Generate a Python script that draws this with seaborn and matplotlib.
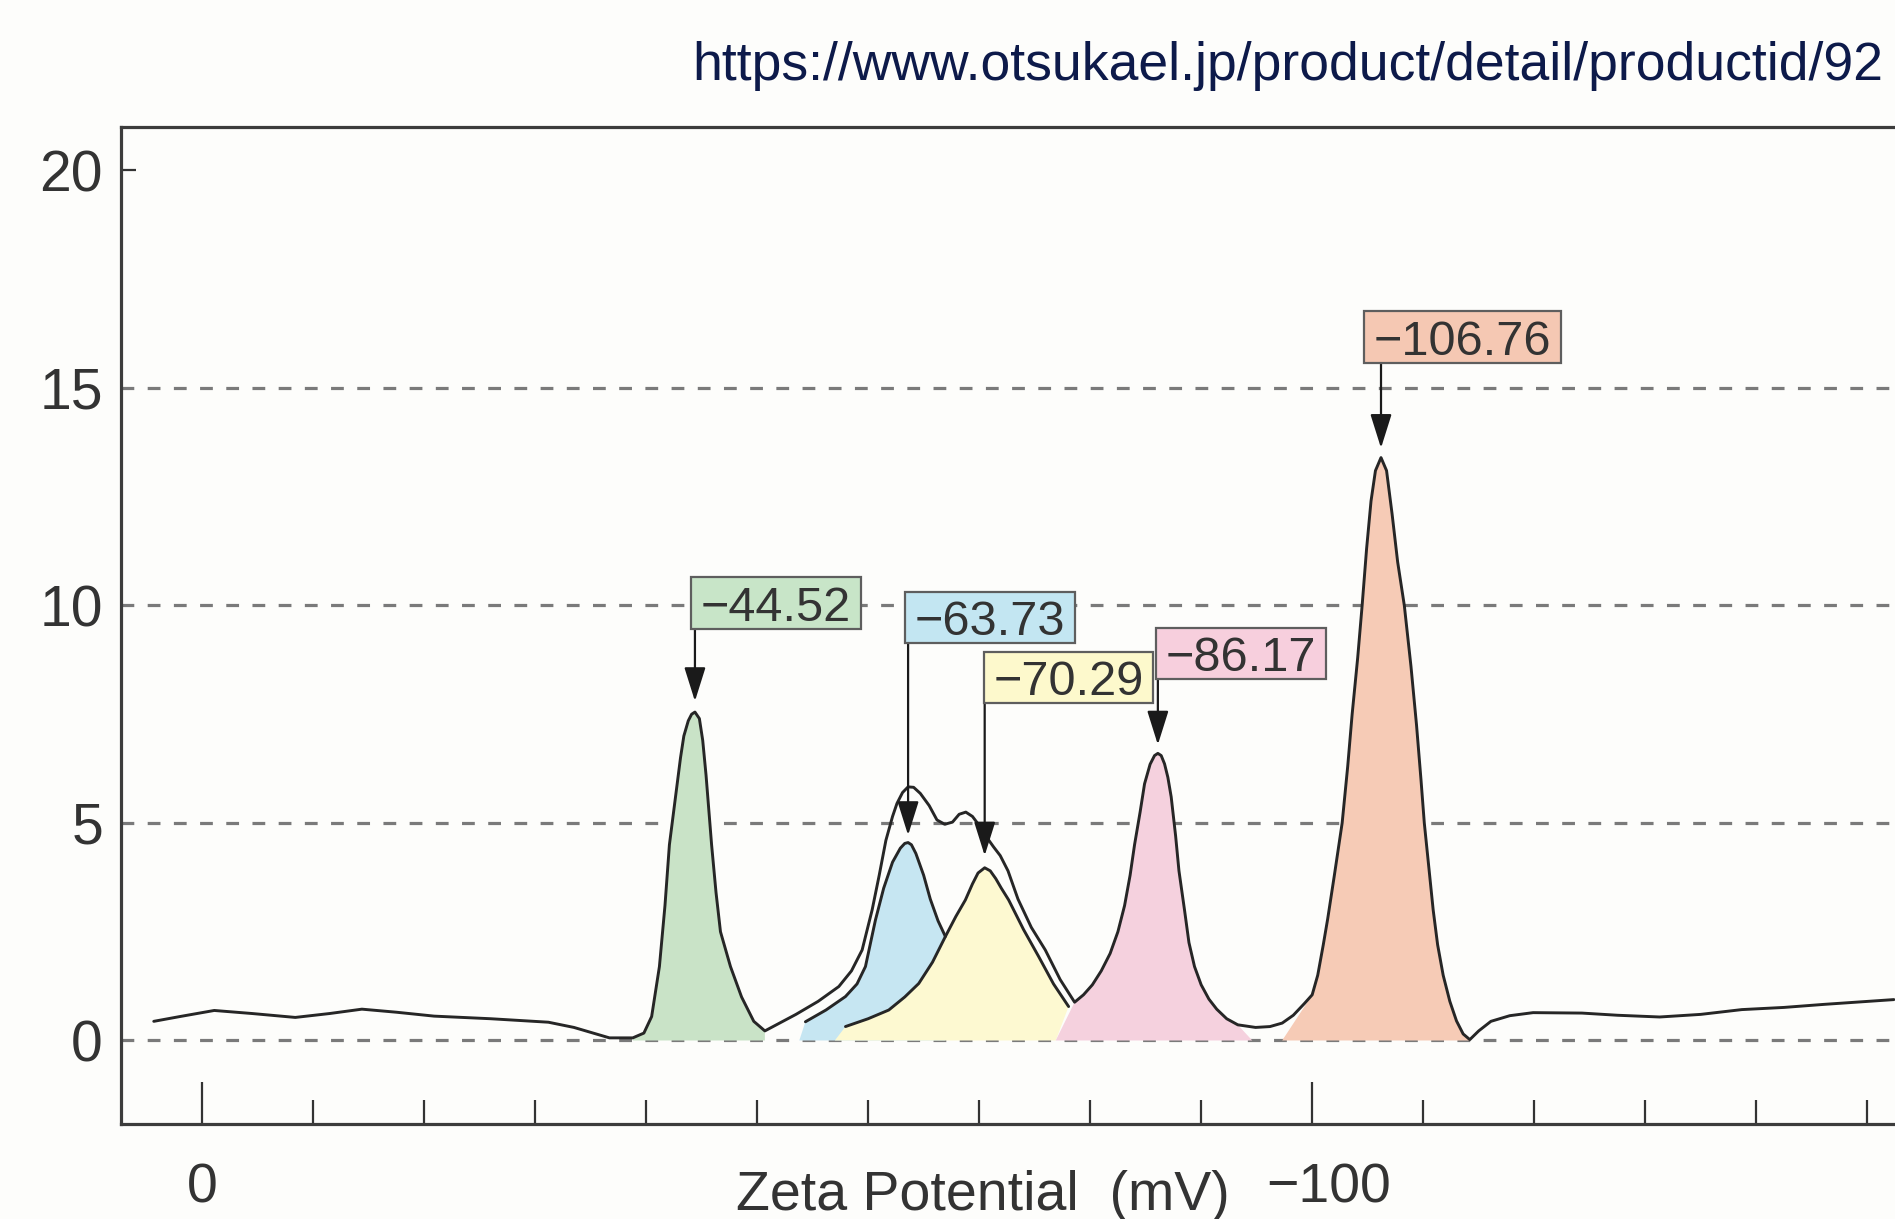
import matplotlib
matplotlib.use("Agg")
import matplotlib.pyplot as plt
import matplotlib.transforms as mtransforms
from matplotlib.path import Path
import seaborn as sns
import pandas as pd

# ---------------- data ----------------
env_mv = [4.35, 2.0, -1.1, -4.5, -8.4, -11.5, -14.4, -17.5, -20.9, -26.0, -31.2, -33.5,
          -35.5, -36.7, -38.8, -39.8, -40.5, -41.2, -41.7, -42.1, -42.5, -42.8, -43.1, -43.4,
          -43.8, -44.1, -44.4, -44.8, -45.1, -45.4, -45.9, -46.3, -46.7, -47.6, -48.6,
          -49.7, -50.7,
          -51.95, -53.5, -55.5, -57.36, -58.5, -59.46, -60.36, -61.0, -61.6, -62.2, -62.6,
          -63.1, -63.6, -64.1, -64.7, -65.5, -66.2, -66.9, -67.6, -68.2, -68.8, -69.4, -69.9,
          -70.6, -71.3, -71.9, -72.6, -73.5, -74.7, -75.96, -77.3, -78.6, -79.4, -80.2, -81.0,
          -81.8, -82.5, -83.1, -83.6, -84.0, -84.5, -84.9, -85.4, -85.8, -86.1, -86.4, -86.7,
          -87.0, -87.3, -87.7, -88.0, -88.5, -88.9, -89.4, -90.0, -90.7, -91.4, -92.3, -93.3,
          -94.9, -96.2, -97.3, -98.3, -99.3, -100.0, -100.5, -101.0, -101.4, -102.0, -102.7,
          -103.2, -103.6, -104.1, -104.5, -104.9, -105.3, -105.7, -106.2, -106.7, -107.2,
          -107.7, -108.3, -108.9, -109.4, -109.8, -110.1, -110.5, -110.9, -111.3, -111.8,
          -112.4, -113.0, -113.6, -114.2, -115.0, -116.1, -117.8, -119.9, -124.3, -127.5,
          -131.3, -135.0, -138.7, -142.5, -146.1, -152.4]
env_y = [0.44, 0.55, 0.69, 0.62, 0.53, 0.62, 0.72, 0.65, 0.56, 0.50, 0.42, 0.30,
         0.15, 0.06, 0.06, 0.17, 0.55, 1.70, 3.10, 4.50, 5.30, 5.90, 6.50, 7.00,
         7.35, 7.50, 7.55, 7.40, 6.90, 6.10, 4.50, 3.40, 2.50, 1.70, 1.00,
         0.44, 0.22,
         0.39, 0.60, 0.90, 1.24, 1.60, 2.08, 3.00, 3.80, 4.60, 5.15, 5.45,
         5.70, 5.83, 5.82, 5.68, 5.40, 5.07, 4.97, 5.02, 5.20, 5.25, 5.15, 4.98,
         4.70, 4.45, 4.25, 3.90, 3.25, 2.60, 2.08, 1.40, 0.88, 1.05, 1.28, 1.60,
         2.00, 2.50, 3.10, 3.80, 4.50, 5.25, 5.90, 6.35, 6.55, 6.60, 6.55, 6.36,
         6.05, 5.60, 4.70, 3.90, 3.00, 2.25, 1.70, 1.28, 0.95, 0.72, 0.50, 0.36,
         0.30, 0.32, 0.40, 0.58, 0.85, 1.05, 1.50, 2.20, 2.80, 3.80, 5.00,
         6.30, 7.50, 8.80, 10.00, 11.30, 12.40, 13.10, 13.40, 13.10, 12.10,
         11.00, 10.00, 8.60, 7.25, 6.00, 5.00, 4.00, 3.00, 2.20, 1.50,
         0.90, 0.45, 0.15, 0.02, 0.22, 0.44, 0.57, 0.64, 0.63, 0.58,
         0.54, 0.60, 0.71, 0.76, 0.83, 0.94]

blue_mv = [-54.35, -56.2, -57.96, -59.0, -59.76, -60.66, -61.4, -62.2, -62.9, -63.3, -63.6,
           -63.9, -64.3, -65.0, -65.6, -66.3, -66.96]
blue_y = [0.43, 0.70, 1.01, 1.30, 1.70, 2.77, 3.50, 4.10, 4.42, 4.53, 4.55,
          4.50, 4.30, 3.80, 3.25, 2.75, 2.39]

yellow_mv = [-57.96, -60.0, -61.86, -63.3, -64.56, -65.8, -66.96, -67.9, -68.76, -69.4,
             -69.9, -70.5, -71.0, -71.5, -72.0, -72.66, -74.0, -75.36, -76.7, -78.06]
yellow_y = [0.32, 0.50, 0.70, 1.00, 1.31, 1.80, 2.39, 2.85, 3.23, 3.60,
            3.85, 3.97, 3.90, 3.72, 3.50, 3.23, 2.55, 1.93, 1.30, 0.78]

peak_labels = ["\u221244.52", "\u221263.73", "\u221270.29", "\u221286.17", "\u2212106.76"]
peak_pos = [-44.4, -63.6, -70.5, -86.1, -106.2]

x_major = [0, -100]
x_major_labels = ["0", "\u2212100"]
x_minor = [-10, -20, -30, -40, -50, -60, -70, -80, -90, -110, -120, -130, -140, -150]
y_ticks = [0, 5, 10, 15, 20]
y_tick_labels = ["0", "5", "10", "15", "20"]
grid_levels = [0, 5, 10, 15]

url_text = "https://www.otsukael.jp/product/detail/productid/92"
x_title = "Zeta Potential  (mV)"

# ---------------- layout / style (not data) ----------------
arrow_tip = [7.8, 4.72, 4.25, 6.8, 13.62]
box_anchor = [(-44.07, 9.47), (-63.33, 9.14), (-70.4, 7.75), (-85.96, 8.3), (-104.7, 15.58)]
box_fc = ["#c8e5c8", "#c3e6f2", "#fdf9cc", "#f7cfdd", "#f5c8b3"]
fill_fc = {"green": "#c9e3c7", "blue": "#c6e6f2", "yellow": "#fdf9d1",
           "pink": "#f5d1de", "orange": "#f6cbb6"}

sns.set_theme(style="white")
plt.rcParams["font.family"] = ["Liberation Sans", "DejaVu Sans"]
bg = "#fdfdfb"

fig = plt.figure(figsize=(18.95, 12.19), dpi=100, facecolor=bg)
ax = fig.add_axes([121 / 1895, 1 - 1124 / 1219, 1 - 121 / 1895, (1124 - 127) / 1219])
ax.set_facecolor(bg)

env = pd.DataFrame({"mv": env_mv, "y": env_y})
blue = pd.DataFrame({"mv": blue_mv, "y": blue_y})
yellow = pd.DataFrame({"mv": yellow_mv, "y": yellow_y})

# gridlines
for g in grid_levels:
    ax.axhline(g, color="#7a7a7a", lw=2.3, linestyle=(0, (4, 4.2)), zorder=0.5)


# fills
def seg(df, a, b):
    m = (df.mv <= a) & (df.mv >= b)
    return list(df.mv[m]), list(df.y[m])


gx, gy = seg(env, -38.7, -50.8)
ax.fill(gx + [gx[-1], gx[0]], gy + [0, 0], color=fill_fc["green"], lw=0, zorder=1)
ax.fill([-53.8] + blue_mv + [-66.96], [0] + blue_y + [0], color=fill_fc["blue"], lw=0, zorder=1)
ax.fill([-57.0] + yellow_mv + [-76.9], [0] + yellow_y + [0], color=fill_fc["yellow"], lw=0, zorder=1.1)
px, py = seg(env, -78.5, -94.0)
ax.fill([-76.9] + px + [-94.6], [0] + py + [0], color=fill_fc["pink"], lw=0, zorder=1.2)
ox, oy = seg(env, -99.9, -114.3)
ax.fill([-97.3] + ox + [-114.2], [0] + oy + [0], color=fill_fc["orange"], lw=0, zorder=1)

# curves
line_kw = dict(color="#262626", linewidth=2.1, estimator=None, sort=False, ax=ax, zorder=3)
sns.lineplot(data=env, x="mv", y="y", **line_kw)
sns.lineplot(data=blue, x="mv", y="y", **line_kw)
sns.lineplot(data=yellow, x="mv", y="y", **line_kw)


# label box: wider horizontal padding, vertically centred on the digits
def label_box(x0, y0, width, height, mutation_size):
    m = mutation_size
    padx = 0.2 * m
    base = y0 + 0.212 * m
    bot = base - 0.17 * m
    top = base + 0.716 * m + 0.17 * m
    left, right = x0 - padx, x0 + width + padx
    return Path([(left, bot), (right, bot), (right, top), (left, top), (left, bot)],
                closed=True)


fs_box = 35
for lab, pos, tip, (bx, by), fc in zip(peak_labels, peak_pos, arrow_tip, box_anchor, box_fc):
    ax.annotate("", xy=(pos, tip), xytext=(pos, by),
                arrowprops=dict(arrowstyle="-|>,head_length=0.7,head_width=0.22",
                                color="#1a1a1a", lw=1.6, shrinkA=0, shrinkB=0,
                                mutation_scale=30), zorder=4)
    ax.annotate(lab, xy=(bx, by), xytext=(0.2 * fs_box, -0.042 * fs_box),
                textcoords="offset points",
                ha="left", va="bottom", fontsize=fs_box, color="#333333", zorder=5,
                bbox=dict(boxstyle=label_box, fc=fc, ec="#5e5e5e", lw=1.6))

# axes
ax.set_xlim(7.3, -152.5)
ax.set_ylim(-1.92, 21.0)
ax.set_xticks(x_major)
ax.set_xticklabels(x_major_labels)
ax.set_xticks(x_minor, minor=True)
ax.tick_params(axis="x", which="major", direction="in", length=30, width=1.6, bottom=True,
               color="#333333", labelsize=40, pad=28, labelcolor="#333333")
ax.tick_params(axis="x", which="minor", direction="in", length=17, width=1.6,
               color="#333333", bottom=True)
shift = mtransforms.ScaledTranslation(0.16, 0, fig.dpi_scale_trans)
for t in ax.get_xticklabels():
    if t.get_text() == x_major_labels[1]:
        t.set_transform(t.get_transform() + shift)

ax.set_yticks(y_ticks)
ax.set_yticklabels(y_tick_labels)
ax.tick_params(axis="y", which="major", length=0, labelsize=41, pad=13, labelcolor="#333333", left=True)
ax.yaxis.remove_overlapping_locs = False
ax.set_yticks([20], minor=True)
ax.tick_params(axis="y", which="minor", direction="in", length=11, width=1.6, color="#333333", left=True)

for s in ["left", "bottom", "top"]:
    ax.spines[s].set_visible(True)
    ax.spines[s].set_color("#3c3c3c")
    ax.spines[s].set_linewidth(2.3)
ax.spines["right"].set_visible(False)
ax.grid(False)

ax.set_xlabel(x_title, fontsize=40, color="#333333")
ax.xaxis.label.set_va("baseline")
ax.xaxis.set_label_coords(0.486, -0.086)
ax.set_ylabel("")

fig.text(1883 / 1895, 1 - 66 / 1219, url_text, ha="right", va="center",
         fontsize=38.5, color="#0d1a4a")

fig.savefig("out.png", dpi=100, facecolor=bg)
